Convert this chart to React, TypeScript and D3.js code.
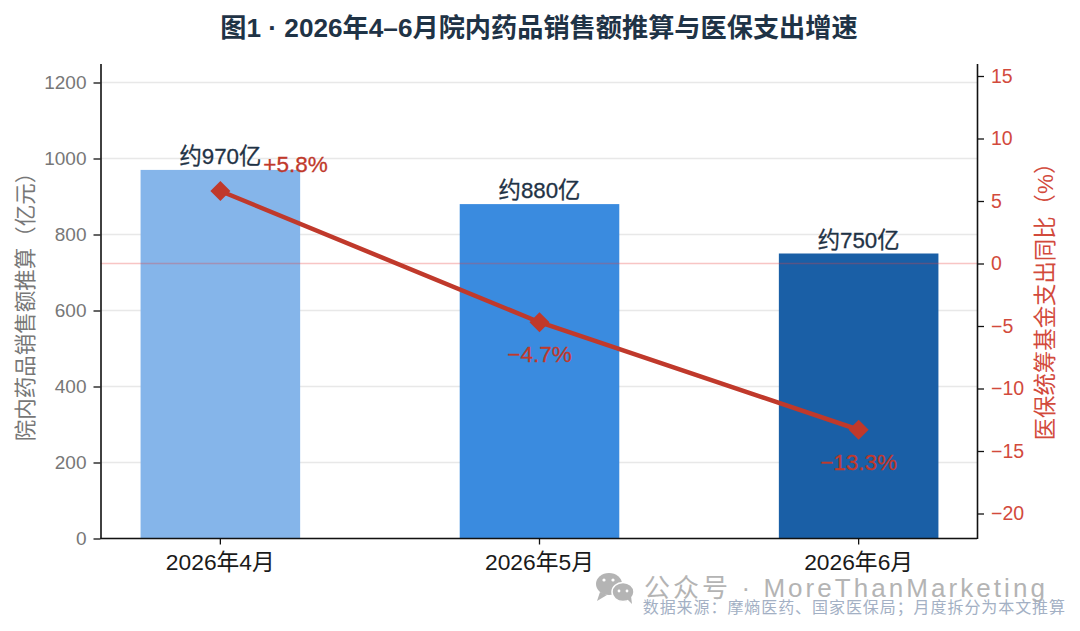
import { useEffect, useRef } from 'react'
import { axisBottom, axisLeft, axisRight, line, scaleBand, scaleLinear, select, symbol, symbolSquare } from 'd3'

const months = ['2026年4月', '2026年5月', '2026年6月']
const sales = [970, 880, 750]
const salesLabels = ['约970亿', '约880亿', '约750亿']
const growth = [5.8, -4.7, -13.3]
const growthLabels = ['+5.8%', '−4.7%', '−13.3%']
const barColors = ['#85b5ea', '#3a8bdf', '#1a5fa6']
const leftTicks = [0, 200, 400, 600, 800, 1000, 1200]
const rightTicks = [-20, -15, -10, -5, 0, 5, 10, 15]

const FONT = '"Liberation Sans", "Noto Sans CJK SC", sans-serif'
const RED = '#c0392b'
const DARK = '#1f3346'

const left = 100.5
const right = 977
const top = 63.5
const bottom = 538.5

export default function App() {
  const xAxisRef = useRef<SVGGElement>(null)
  const leftAxisRef = useRef<SVGGElement>(null)
  const rightAxisRef = useRef<SVGGElement>(null)

  const x = scaleBand<string>().domain(months).range([101, 978]).paddingInner(0.5).paddingOuter(0.124)
  const y = scaleLinear().domain([0, 1250]).range([bottom, top])
  const y2 = scaleLinear().domain([-22, 16]).range([bottom, top])
  const cx = (m: string) => x(m)! + x.bandwidth() / 2

  const pathGen = line<number>()
    .x((_, i) => cx(months[i]))
    .y((d) => y2(d))

  useEffect(() => {
    const style = (sel: any, color: string, size: number) => {
      sel.selectAll('path').attr('stroke', '#111').attr('stroke-width', 1.6)
      sel.selectAll('line').attr('stroke', '#111').attr('stroke-width', 1.3)
      sel.selectAll('text').attr('fill', color).attr('font-size', size).attr('font-family', FONT)
    }
    const gx = select(xAxisRef.current!)
    gx.call(axisBottom(x).tickSize(6).tickSizeOuter(0).tickPadding(9) as any)
    style(gx, '#1a1a1a', 22.8)
    // the band scale runs 1px past the spines, so trim the baseline back to them
    gx.select('path').attr('d', `M${left},0H${right}`)
    const gl = select(leftAxisRef.current!)
    gl.call(axisLeft(y).tickValues(leftTicks).tickSize(7).tickSizeOuter(0).tickPadding(7).tickFormat((d) => String(d)) as any)
    style(gl, '#777777', 19)
    const gr = select(rightAxisRef.current!)
    gr.call(axisRight(y2).tickValues(rightTicks).tickSize(7).tickSizeOuter(0).tickPadding(7) as any)
    style(gr, '#d24a3c', 19.5)
  }, [])

  return (
    <svg width={1080} height={631} style={{ position: 'absolute', left: 0, top: 0, background: '#fff' }} fontFamily={FONT}>
      <text x={539} y={36.5} textAnchor="middle" fontSize={26.2} fontWeight={700} fill={DARK}>
        图1 · 2026年4–6月院内药品销售额推算与医保支出增速
      </text>

      {leftTicks.map((t) => (
        <line key={t} x1={left} x2={right} y1={y(t)} y2={y(t)} stroke="#e8e8e8" strokeWidth={1.4} />
      ))}

      {months.map((m, i) => (
        <rect key={m} x={x(m)} y={y(sales[i])} width={x.bandwidth()} height={bottom - y(sales[i])} fill={barColors[i]} />
      ))}

      <line x1={left} x2={right} y1={y2(0)} y2={y2(0)} stroke="#e8403a" strokeOpacity={0.3} strokeWidth={1.4} />

      <path d={pathGen(growth) ?? ''} fill="none" stroke={RED} strokeWidth={4.5} />
      {months.map((m, i) => (
        <path
          key={m}
          transform={`translate(${cx(m)},${y2(growth[i])}) rotate(45)`}
          d={symbol().type(symbolSquare).size(200)() ?? ''}
          fill={RED}
        />
      ))}

      {months.map((m, i) => (
        <text key={m} x={cx(m)} y={y(sales[i]) - 6} textAnchor="middle" fontSize={22.3} fill={DARK} stroke={DARK} strokeWidth={0.3}>
          {salesLabels[i]}
        </text>
      ))}

      <text x={295.5} y={172} textAnchor="middle" fontSize={22.5} fill={RED} stroke={RED} strokeWidth={0.3}>{growthLabels[0]}</text>
      <text x={cx(months[1])} y={362} textAnchor="middle" fontSize={22.5} fill={RED} stroke={RED} strokeWidth={0.3}>{growthLabels[1]}</text>
      <text x={cx(months[2])} y={470} textAnchor="middle" fontSize={22.5} fill={RED} stroke={RED} strokeWidth={0.3}>{growthLabels[2]}</text>

      <g ref={xAxisRef} transform={`translate(0,${bottom})`} />
      <g ref={leftAxisRef} transform={`translate(${left},0)`} />
      <g ref={rightAxisRef} transform={`translate(${right},0)`} />

      <text transform="translate(33,301.5) rotate(-90)" textAnchor="middle" fontSize={21.5} fill="#777777">
        院内药品销售额推算（亿元）
      </text>
      <text transform="translate(1053,296) rotate(-90)" textAnchor="middle" fontSize={22.4} fill="#d24a3c">
        医保统筹基金支出同比（%）
      </text>

      {/* watermark */}
      <g fill="#b4b4b4">
        <ellipse cx={609} cy={584} rx={13} ry={11} />
        <path d="M600 592 L597 601 L607 595 Z" />
        <ellipse cx={623} cy={592} rx={11} ry={9.5} stroke="#fff" strokeWidth={1.5} />
        <path d="M627 599 L632 604 L631 596 Z" />
      </g>
      <g fill="#fff">
        <circle cx={604} cy={580} r={1.6} />
        <circle cx={613} cy={580} r={1.6} />
        <circle cx={619} cy={591} r={1.4} />
        <circle cx={627} cy={591} r={1.4} />
      </g>
      <text x={644} y={597} fontSize={26} fill="#b4b4b4" letterSpacing={3.05}>
        公众号 · MoreThanMarketing
      </text>
      <text x={1066} y={613} textAnchor="end" fontSize={16} fill="#a3b0c4" letterSpacing={0.93}>
        数据来源：摩熵医药、国家医保局；月度拆分为本文推算
      </text>
    </svg>
  )
}
